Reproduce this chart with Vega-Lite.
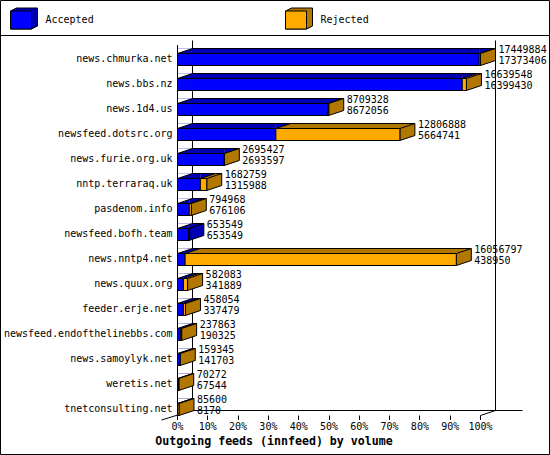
{
  "$schema": "https://vega.github.io/schema/vega-lite/v6.json",
  "description": "Outgoing feeds (innfeed) by volume, accepted and rejected share of each peer.",
  "width": 303,
  "height": 375,
  "autosize": {"type": "none"},
  "padding": {"left": 177.5, "top": 45, "right": 69.5, "bottom": 35},
  "background": "white",
  "config": {
    "view": {"stroke": null},
    "axis": {"translate": 0, "grid": false, "labelColor": "black", "labelFont": "DejaVu Sans Mono", "labelFontSize": 10},
    "text": {"font": "DejaVu Sans Mono", "fontSize": 10, "color": "black"},
    "legend": {"labelFont": "DejaVu Sans Mono", "labelFontSize": 10, "labelColor": "black"}
  },
  "datasets": {
    "feeds": [
      {"host": "news.chmurka.net", "series": "Accepted", "from": 0, "to": 17373406},
      {"host": "news.chmurka.net", "series": "Rejected", "from": 17373406, "to": 17449884},
      {"host": "news.bbs.nz", "series": "Accepted", "from": 0, "to": 16399430},
      {"host": "news.bbs.nz", "series": "Rejected", "from": 16399430, "to": 16639548},
      {"host": "news.1d4.us", "series": "Accepted", "from": 0, "to": 8672056},
      {"host": "news.1d4.us", "series": "Rejected", "from": 8672056, "to": 8709328},
      {"host": "newsfeed.dotsrc.org", "series": "Accepted", "from": 0, "to": 5664741},
      {"host": "newsfeed.dotsrc.org", "series": "Rejected", "from": 5664741, "to": 12806888},
      {"host": "news.furie.org.uk", "series": "Accepted", "from": 0, "to": 2693597},
      {"host": "news.furie.org.uk", "series": "Rejected", "from": 2693597, "to": 2695427},
      {"host": "nntp.terraraq.uk", "series": "Accepted", "from": 0, "to": 1315988},
      {"host": "nntp.terraraq.uk", "series": "Rejected", "from": 1315988, "to": 1682759},
      {"host": "pasdenom.info", "series": "Accepted", "from": 0, "to": 676106},
      {"host": "pasdenom.info", "series": "Rejected", "from": 676106, "to": 794968},
      {"host": "newsfeed.bofh.team", "series": "Accepted", "from": 0, "to": 653549},
      {"host": "newsfeed.bofh.team", "series": "Rejected", "from": 653549, "to": 653549},
      {"host": "news.nntp4.net", "series": "Accepted", "from": 0, "to": 438950},
      {"host": "news.nntp4.net", "series": "Rejected", "from": 438950, "to": 16056797},
      {"host": "news.quux.org", "series": "Accepted", "from": 0, "to": 341889},
      {"host": "news.quux.org", "series": "Rejected", "from": 341889, "to": 582083},
      {"host": "feeder.erje.net", "series": "Accepted", "from": 0, "to": 337479},
      {"host": "feeder.erje.net", "series": "Rejected", "from": 337479, "to": 458054},
      {"host": "newsfeed.endofthelinebbs.com", "series": "Accepted", "from": 0, "to": 190325},
      {"host": "newsfeed.endofthelinebbs.com", "series": "Rejected", "from": 190325, "to": 237863},
      {"host": "news.samoylyk.net", "series": "Accepted", "from": 0, "to": 141703},
      {"host": "news.samoylyk.net", "series": "Rejected", "from": 141703, "to": 159345},
      {"host": "weretis.net", "series": "Accepted", "from": 0, "to": 67544},
      {"host": "weretis.net", "series": "Rejected", "from": 67544, "to": 70272},
      {"host": "tnetconsulting.net", "series": "Accepted", "from": 0, "to": 8170},
      {"host": "tnetconsulting.net", "series": "Rejected", "from": 8170, "to": 85600}
    ]
  },
  "data": {"name": "feeds"},
  "encoding": {
    "y": {
      "field": "host",
      "type": "nominal",
      "title": null,
      "scale": {"domain": ["news.chmurka.net", "news.bbs.nz", "news.1d4.us", "newsfeed.dotsrc.org", "news.furie.org.uk", "nntp.terraraq.uk", "pasdenom.info", "newsfeed.bofh.team", "news.nntp4.net", "news.quux.org", "feeder.erje.net", "newsfeed.endofthelinebbs.com", "news.samoylyk.net", "weretis.net", "tnetconsulting.net"]},
      "axis": {"ticks": false, "domain": true, "domainColor": "black", "labelPadding": 5, "labelOffset": 2, "labelLimit": 200, "zindex": 1}
    }
  },
  "layer": [
    {
      "data": {"values": [{"host": "news.chmurka.net", "last": "tnetconsulting.net", "from": 0, "to": 17449884}]},
      "mark": {"type": "rect", "fill": "transparent", "stroke": "black", "strokeWidth": 1, "xOffset": -177, "x2Offset": 69, "yOffset": -57, "y2Offset": 47},
      "encoding": {
        "x": {
          "field": "from",
          "type": "quantitative",
          "title": "Outgoing feeds (innfeed) by volume",
          "scale": {"domain": [0, 17449884], "nice": false},
          "axis": {
            "values": [0, 1744988.4, 3489976.8, 5234965.2, 6979953.6, 8724942, 10469930.4, 12214918.8, 13959907.2, 15704895.6, 17449884],
            "tickCount": 11,
            "labelExpr": "format(datum.value / 17449884, '.0%')",
            "labelOverlap": false,
            "domain": false,
            "offset": -4.5,
            "tickSize": 4.5,
            "tickColor": "black",
            "labelPadding": 2,
            "labelFlush": false,
            "titleFont": "DejaVu Sans Mono",
            "titleFontSize": 11.6,
            "titleFontWeight": "bold",
            "titleColor": "black",
            "titleX": 96.5,
            "titleY": 26,
            "titleBaseline": "middle"
          }
        },
        "x2": {"field": "to"},
        "y2": {"field": "last"}
      }
    },
    {
      "data": {"values": [{"host": "news.chmurka.net", "from": 0, "to": 17449884}]},
      "mark": {"type": "rule", "color": "black", "xOffset": -177, "x2Offset": 69, "yOffset": -22},
      "encoding": {
        "x": {"field": "from", "type": "quantitative"},
        "x2": {"field": "to"}
      }
    },
    {
      "data": {"values": [
        {"host": "news.chmurka.net", "last": "tnetconsulting.net", "pos": 0},
        {"host": "news.chmurka.net", "last": "tnetconsulting.net", "pos": 17449884}
      ]},
      "mark": {"type": "rule", "color": "black", "xOffset": 15, "yOffset": -17, "y2Offset": 3},
      "encoding": {
        "x": {"field": "pos", "type": "quantitative"},
        "y2": {"field": "last"}
      }
    },
    {
      "data": {"values": [{"host": "tnetconsulting.net", "from": 0, "to": 17449884}]},
      "mark": {"type": "rule", "color": "black", "xOffset": 15, "x2Offset": 42, "yOffset": 3},
      "encoding": {
        "x": {"field": "from", "type": "quantitative"},
        "x2": {"field": "to"}
      }
    },
    {
      "data": {"values": [{"host": "tnetconsulting.net", "pos": 0}]},
      "mark": {"type": "point", "shape": "M-16,12.5L15,3", "size": 4, "filled": false, "stroke": "black", "strokeWidth": 1, "opacity": 1},
      "encoding": {"x": {"field": "pos", "type": "quantitative"}}
    },
    {
      "data": {"values": [{"host": "tnetconsulting.net", "pos": 17449884}]},
      "mark": {"type": "point", "shape": "M0,8L15,3", "size": 4, "filled": false, "stroke": "black", "strokeWidth": 1, "opacity": 1},
      "encoding": {"x": {"field": "pos", "type": "quantitative"}}
    },
    {
      "transform": [{"filter": "datum.series == 'Rejected'"}],
      "mark": {"type": "bar", "size": 5, "yOffset": -6.5, "x2Offset": 15, "fill": "#B27700"},
      "encoding": {
        "x": {"field": "from", "type": "quantitative"},
        "x2": {"field": "to"}
      }
    },
    {
      "transform": [{"filter": "datum.series == 'Accepted'"}],
      "mark": {"type": "bar", "size": 5, "yOffset": -6.5, "fill": "#0000B2"},
      "encoding": {
        "x": {"field": "from", "type": "quantitative"},
        "x2": {"field": "to"}
      }
    },
    {
      "transform": [{"filter": "datum.series == 'Accepted'"}],
      "mark": {"type": "point", "shape": "M0,-4L15,-9L0,-9Z", "size": 4, "filled": true, "fill": "#0000B2", "stroke": null, "opacity": 1},
      "encoding": {"x": {"field": "to", "type": "quantitative"}}
    },
    {
      "transform": [{"filter": "datum.series == 'Accepted'"}],
      "mark": {"type": "point", "shape": "M0,-4L15,-9L0,-9Z", "size": 4, "filled": true, "fill": "white", "stroke": null, "opacity": 1},
      "encoding": {"x": {"field": "from", "type": "quantitative"}}
    },
    {
      "transform": [{"filter": "datum.series == 'Accepted'"}],
      "mark": {"type": "point", "shape": "M0,-4L15,-9", "size": 4, "filled": false, "stroke": "black", "strokeWidth": 1, "opacity": 1},
      "encoding": {"x": {"field": "from", "type": "quantitative"}}
    },
    {
      "transform": [{"filter": "datum.series == 'Accepted'"}],
      "mark": {"type": "point", "shape": "M0,-4L15,-9", "size": 4, "filled": false, "stroke": "black", "strokeWidth": 1, "opacity": 1},
      "encoding": {"x": {"field": "to", "type": "quantitative"}}
    },
    {
      "mark": {"type": "rule", "color": "black", "xOffset": 15, "x2Offset": 15, "yOffset": -9},
      "encoding": {
        "x": {"field": "from", "type": "quantitative"},
        "x2": {"field": "to"}
      }
    },
    {
      "transform": [{"filter": "(datum.series == 'Rejected' && datum.from != datum.to) || (datum.series == 'Accepted' && datum.host == 'newsfeed.bofh.team')"}],
      "mark": {"type": "point", "shape": "M0,-4L15,-9L15,3L0,8Z", "size": 4, "filled": true, "stroke": "black", "strokeWidth": 1, "opacity": 1},
      "encoding": {
        "x": {"field": "to", "type": "quantitative"},
        "color": {
          "field": "series",
          "type": "nominal",
          "title": null,
          "scale": {"domain": ["Rejected", "Accepted"], "range": ["#B27700", "#0000B2"]},
          "legend": {
            "orient": "none",
            "legendX": -162,
            "legendY": -30,
            "direction": "horizontal",
            "columns": 2,
            "padding": 0,
            "columnPadding": 189,
            "values": ["Accepted", "Rejected"],
            "symbolType": "M-10,-9L-4,-12H17V6L11,9H-10Z",
            "symbolSize": 4,
            "symbolStrokeColor": "black",
            "symbolStrokeWidth": 1,
            "symbolOpacity": 1,
            "labelOffset": 20,
            "labelColor": "transparent",
            "zindex": 0
          }
        }
      }
    },
    {
      "mark": {"type": "bar", "size": 12, "yOffset": 2, "stroke": "black", "strokeWidth": 1},
      "encoding": {
        "x": {"field": "from", "type": "quantitative"},
        "x2": {"field": "to"},
        "fill": {
          "field": "series",
          "type": "nominal",
          "title": null,
          "scale": {"domain": ["Accepted", "Rejected"], "range": ["#0000FF", "#FFAA00"]},
          "legend": {
            "orient": "none",
            "legendX": -162,
            "legendY": -30,
            "direction": "horizontal",
            "columns": 2,
            "padding": 0,
            "columnPadding": 189,
            "symbolType": "M-10,-9H11V9H-10Z",
            "symbolSize": 4,
            "symbolStrokeColor": "black",
            "symbolStrokeWidth": 1,
            "symbolOpacity": 1,
            "labelOffset": 20,
            "zindex": 1
          }
        }
      }
    },
    {
      "transform": [{"filter": "datum.series == 'Rejected'"}],
      "mark": {"type": "text", "align": "left", "baseline": "middle", "dx": 18, "dy": -7.5},
      "encoding": {
        "x": {"field": "to", "type": "quantitative"},
        "text": {"field": "to", "type": "quantitative", "format": "d"}
      }
    },
    {
      "transform": [{"filter": "datum.series == 'Rejected'"}],
      "mark": {"type": "text", "align": "left", "baseline": "middle", "dx": 18, "dy": 3.5},
      "encoding": {
        "x": {"field": "to", "type": "quantitative"},
        "text": {"field": "from", "type": "quantitative", "format": "d"}
      }
    }
  ]
}
